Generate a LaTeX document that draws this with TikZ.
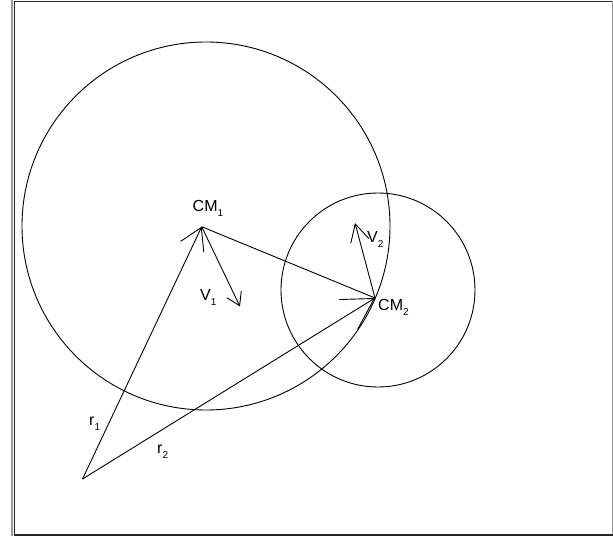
\documentclass[tikz,border=0pt]{standalone}
\usepackage{fontspec}
\setmainfont{Liberation Sans}
\usetikzlibrary{arrows.meta}
\newcommand{\mylbl}[2]{#1\raisebox{-5pt}{\fontsize{10}{10}\selectfont #2}}
\begin{document}
\begin{tikzpicture}[x=1pt,y=-1pt,
  ln/.style={line width=0.9pt, draw=black},
  lbl/.style={inner sep=0pt, anchor=base west, font=\fontsize{16}{18}\selectfont},
  framedark/.style={line width=1.4pt, draw=black!85},
  framelight/.style={line width=1.2pt, draw=black!40}]
\useasboundingbox (0,0) rectangle (613,537);
% frame
\draw[framelight] (12,0) -- (12,536);
\draw[framedark] (14.5,0.8) -- (14.5,535.3);
\draw[framedark] (14,1.5) -- (613,1.5);
\draw[framedark] (14,534.8) -- (613,534.8);
\draw[framelight, line width=1pt] (612,1) -- (612,534);
% points
\coordinate (O) at (82.5,479);
\coordinate (CM1) at (201.7,226.7);
\coordinate (CM2) at (375,298);
\coordinate (V1tip) at (240,306.5);
\coordinate (V2tip) at (355,223);
% circles
\draw[ln] (206,226) circle (184);
\draw[ln] (378,290) circle (97);
% vectors
\draw[ln, -{Straight Barb[angle=62:25pt]}] (O) -- (CM1);
\draw[ln, -{Straight Barb[angle=60:35pt]}] (O) -- (CM2);
\draw[ln] (CM1) -- (CM2);
\draw[ln, -{Straight Barb[angle=64:15pt]}] (CM1) -- (V1tip);
\draw[ln, -{Straight Barb[angle=56:20pt]}] (CM2) -- (V2tip);
% labels
\node[lbl] (lcm1) at (192.5,212) {\mylbl{CM}{1}};
\node[lbl] (lcm2) at (378,311) {\mylbl{CM}{2}};
\node[lbl] (lv1) at (200,301) {\mylbl{V}{1}};
\node[lbl] (lv2) at (367,243) {\mylbl{V}{2}};
\node[lbl] (lr1) at (89,425) {\mylbl{r}{1}};
\node[lbl] (lr2) at (157,453) {\mylbl{r}{2}};
\end{tikzpicture}
\end{document}
